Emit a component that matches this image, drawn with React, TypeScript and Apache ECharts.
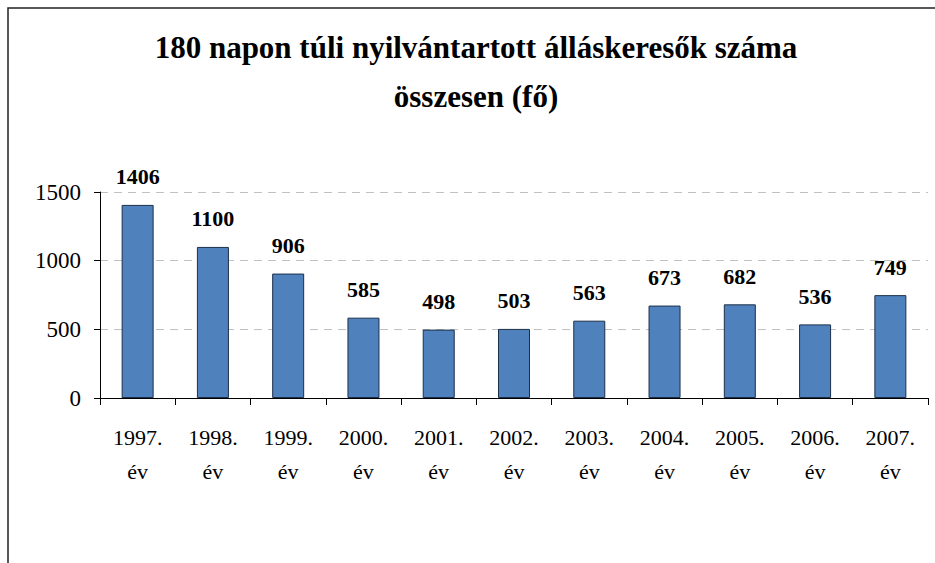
import React, { useEffect, useRef } from "react";
import * as echarts from "echarts";

const titleLines = ["180 napon túli nyilvántartott álláskeresők száma", "összesen (fő)"];
const categories = ["1997.\név", "1998.\név", "1999.\név", "2000.\név", "2001.\név", "2002.\név", "2003.\név", "2004.\név", "2005.\név", "2006.\név", "2007.\név"];
const values = [1406, 1100, 906, 585, 498, 503, 563, 673, 682, 536, 749];
const yTicks = { min: 0, max: 1500, interval: 500 };

const FONT = "Liberation Serif, serif";

export default function App() {
  const ref = useRef<HTMLDivElement>(null);
  useEffect(() => {
    document.body.style.margin = "0";
    const chart = echarts.init(ref.current!, null, { renderer: "svg" });
    chart.setOption({
      animation: false,
      backgroundColor: "#ffffff",
      graphic: [
        {
          type: "rect",
          shape: { x: 8, y: 8, width: 1000, height: 1000 },
          style: { fill: "none", stroke: "#222", lineWidth: 1.5 },
          silent: true,
        },
        {
          type: "text",
          x: 476,
          y: 47,
          style: {
            text: titleLines[0],
            textAlign: "center",
            textVerticalAlign: "middle",
            fontFamily: FONT,
            fontWeight: "bold",
            fontSize: 31,
            fill: "#000",
          },
        },
        {
          type: "text",
          x: 476,
          y: 96,
          style: {
            text: titleLines[1],
            textAlign: "center",
            textVerticalAlign: "middle",
            fontFamily: FONT,
            fontWeight: "bold",
            fontSize: 31,
            fill: "#000",
          },
        },
      ],
      grid: { left: 100, right: 7, top: 192, bottom: 165, containLabel: false },
      xAxis: {
        type: "category",
        data: categories,
        boundaryGap: true,
        axisLine: { lineStyle: { color: "#000", width: 1 } },
        axisTick: { show: true, length: 7, lineStyle: { color: "#000" } },
        axisLabel: {
          color: "#000",
          fontFamily: FONT,
          fontSize: 22,
          lineHeight: 34,
          margin: 22,
          interval: 0,
        },
      },
      yAxis: {
        type: "value",
        min: yTicks.min,
        max: yTicks.max,
        interval: yTicks.interval,
        axisLine: { show: true, lineStyle: { color: "#000", width: 1 } },
        axisTick: { show: true, length: 6, lineStyle: { color: "#000" } },
        axisLabel: {
          color: "#000",
          fontFamily: FONT,
          fontSize: 23,
          margin: 19,
          formatter: (v: number) => String(v),
        },
        splitLine: { show: true, lineStyle: { color: "#c0c0c0", type: [8, 6], width: 1 } },
      },
      series: [
        {
          type: "bar",
          data: values,
          barWidth: 32,
          itemStyle: { color: "#4f81bd", borderColor: "#1c2f4a", borderWidth: 1 },
          label: {
            show: true,
            position: "top",
            distance: 17,
            color: "#000",
            fontFamily: FONT,
            fontWeight: "bold",
            fontSize: 22,
          },
        },
      ],
    });
    return () => chart.dispose();
  }, []);
  return <div ref={ref} style={{ width: 935, height: 563 }} />;
}
